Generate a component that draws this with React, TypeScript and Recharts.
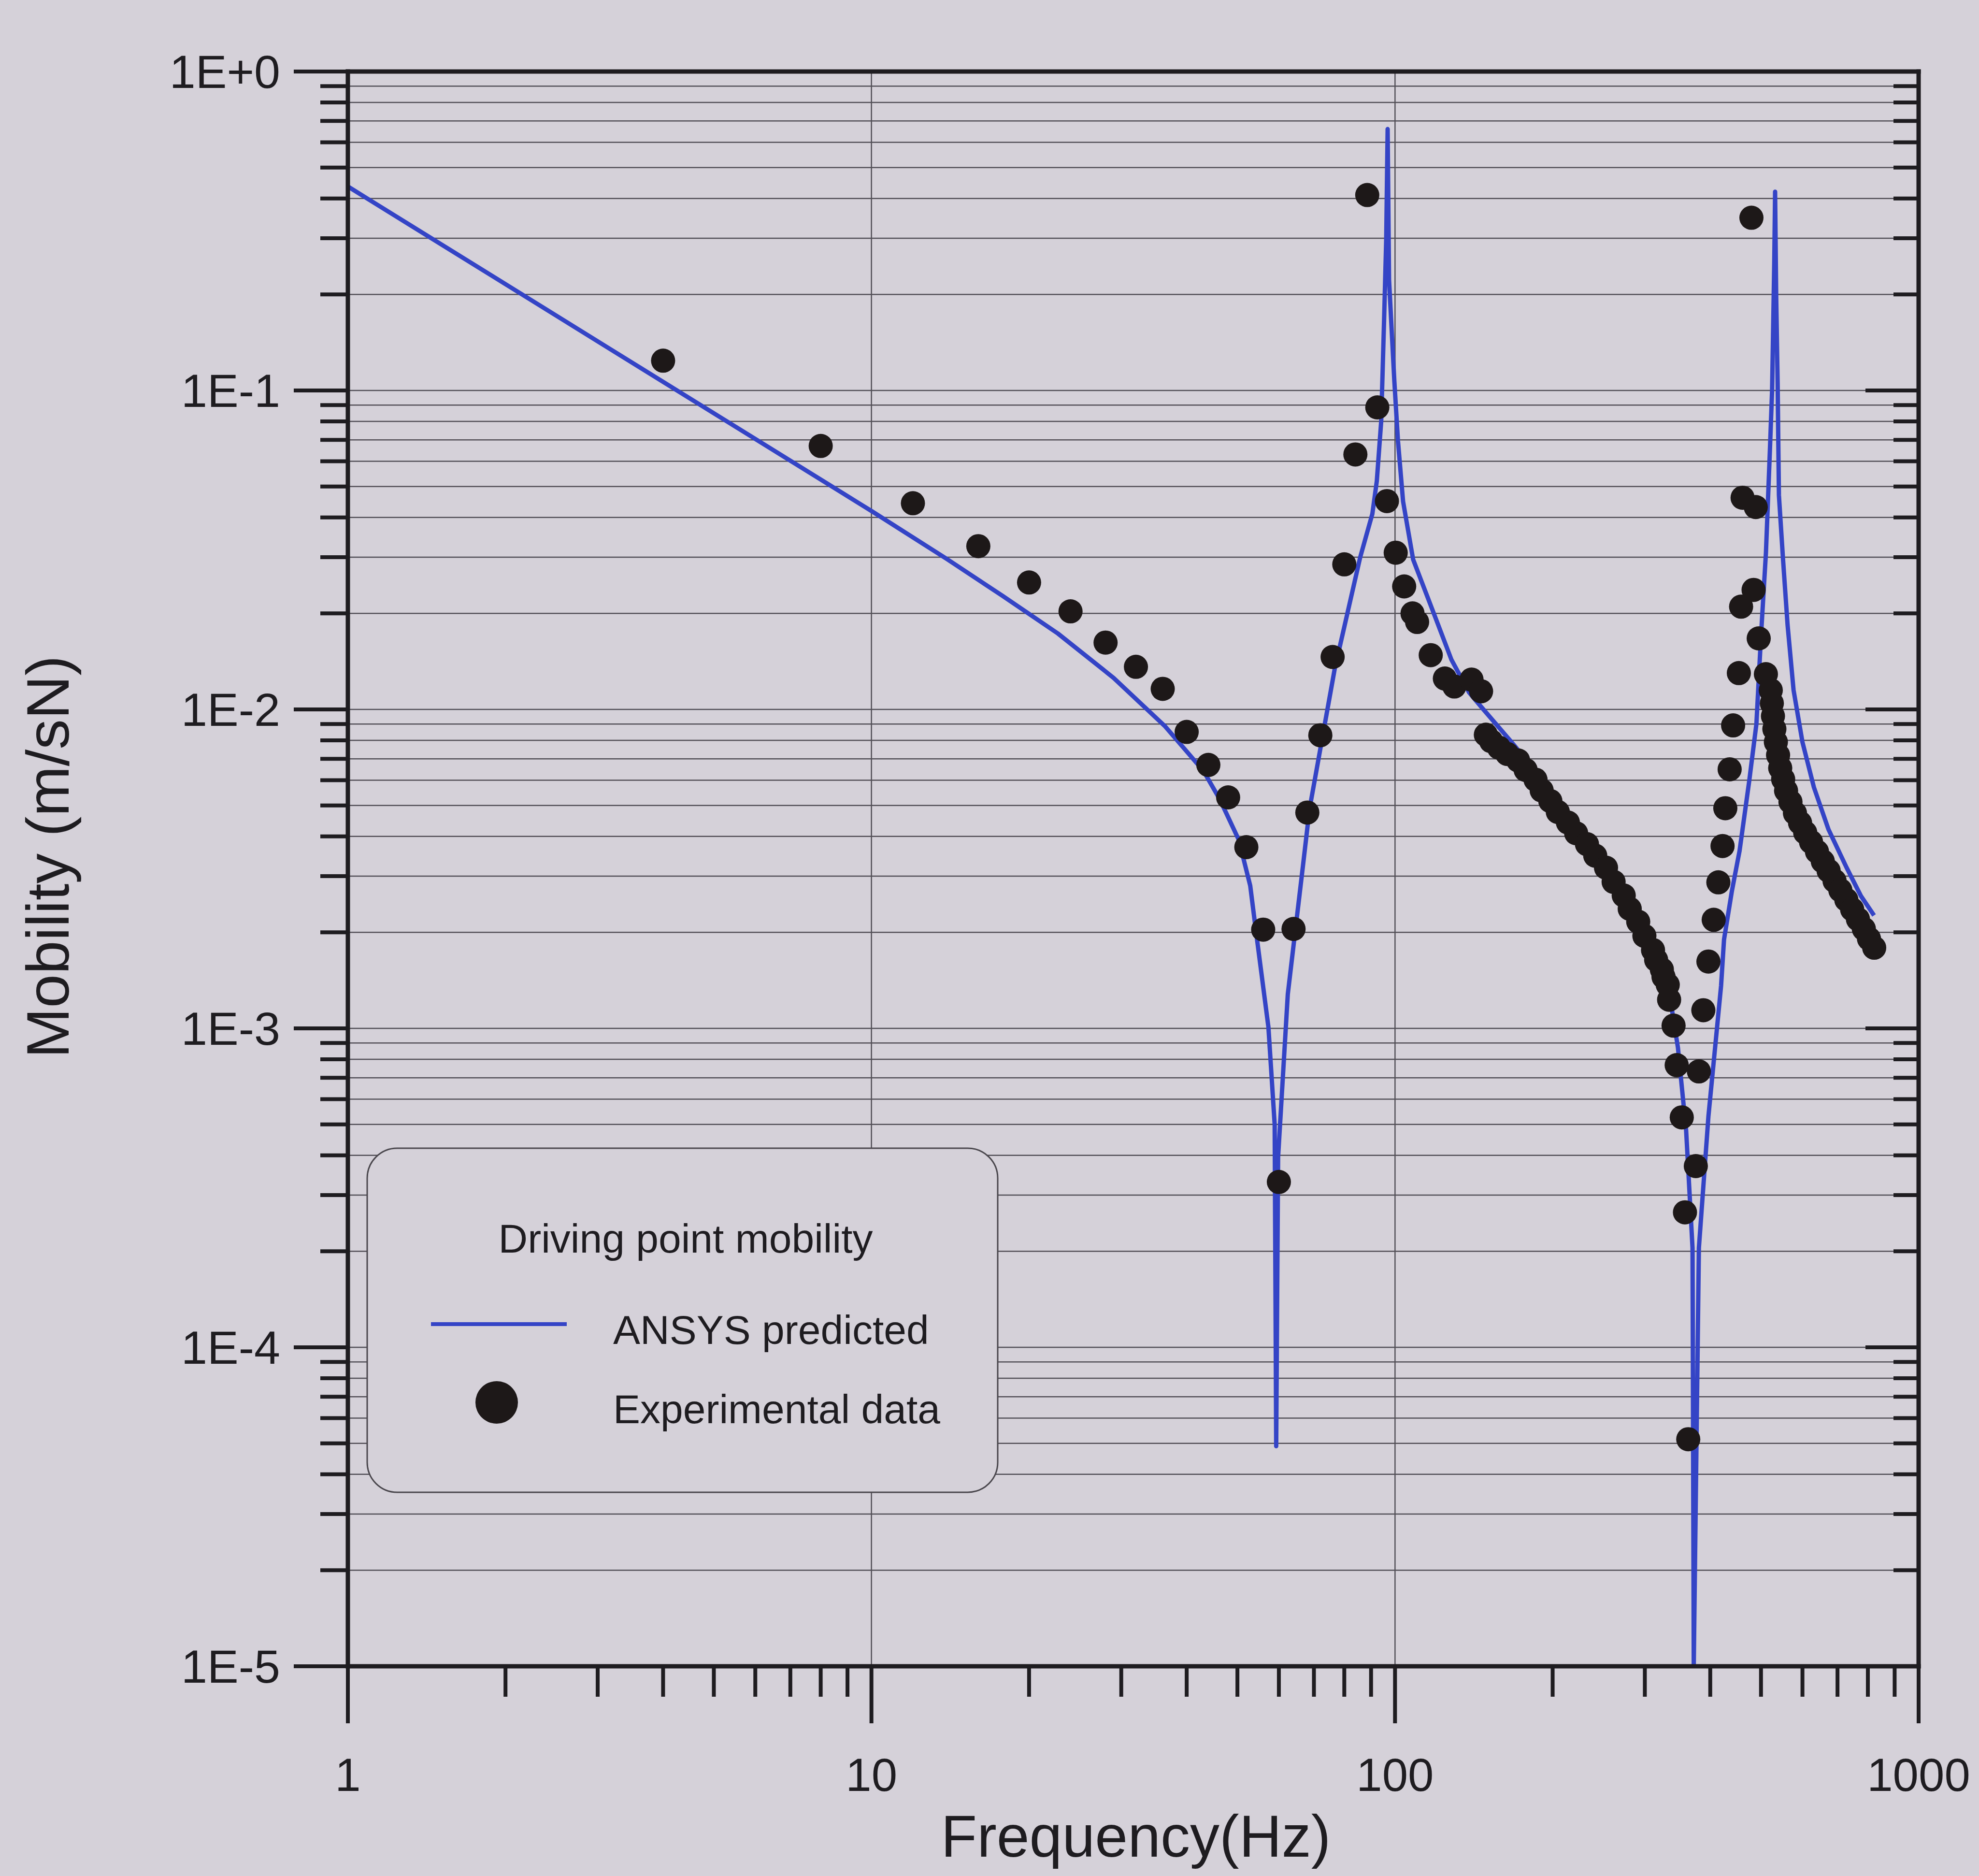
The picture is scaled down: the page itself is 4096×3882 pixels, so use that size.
import {
  CartesianGrid,
  ComposedChart,
  Line,
  ReferenceLine,
  Scatter,
  XAxis,
  YAxis,
} from "recharts";

// frequency (Hz), mobility (m/sN)
const ansysPredicted: [number, number][] = [
  [1, 0.436], [10, 0.0419], [13.9, 0.0297], [17.8, 0.0227], [22.7, 0.0173],
  [29, 0.01256], [36.4, 0.00884], [39.4, 0.0076], [43.1, 0.0064], [46.2, 0.00525],
  [50.3, 0.0039], [52.9, 0.0028], [54.2, 0.00204], [57.3, 0.00101], [58.9, 0.0005],
  [59.3, 0.000049], [59.8, 0.000395], [62.4, 0.00128], [66.8, 0.0033], [68.7, 0.0049],
  [76.7, 0.0134], [85.8, 0.03], [90.5, 0.041], [92.3, 0.052], [94.1, 0.08],
  [95.3, 0.166], [96.2, 0.298], [96.8, 0.66], [97.4, 0.2225], [99.7, 0.107],
  [101.3, 0.0695], [103.6, 0.0449], [108.3, 0.0295], [118.6, 0.02], [128.2, 0.0143],
  [138.5, 0.0113], [147.5, 0.01], [165.8, 0.008], [177.4, 0.007], [185.5, 0.0063],
  [198, 0.0053], [211.2, 0.0047], [225.3, 0.0042], [240.3, 0.0037], [256.2, 0.0032],
  [273.4, 0.0027], [291.4, 0.00226], [311, 0.00181], [327.5, 0.00144], [338.1, 0.00114],
  [347, 0.00087], [359.7, 0.00048], [370, 0.000205], [372, 0.00001], [380.5, 0.000205],
  [396.8, 0.00053], [419.5, 0.00136], [425, 0.0019], [440, 0.0027], [455, 0.0036],
  [475, 0.006], [490, 0.009], [500, 0.017], [511, 0.031], [520, 0.065],
  [525, 0.1], [530, 0.25], [532, 0.42], [534.5, 0.2], [538, 0.105],
  [541, 0.047], [551, 0.0294], [562, 0.0184], [577, 0.0115], [600, 0.0079],
  [631, 0.0057], [673, 0.0042], [728, 0.0032], [776, 0.0026], [822, 0.00226],
];

const experimental: [number, number][] = [
  [4, 0.124], [8, 0.067], [12, 0.0443], [16, 0.0325], [20, 0.025],
  [24, 0.0203], [28, 0.0162], [32, 0.0136], [36, 0.0116], [40, 0.0085],
  [44, 0.0067], [48, 0.0053], [52, 0.0037], [56, 0.00204], [60, 0.00033],
  [64, 0.00205], [68, 0.00475], [72, 0.0083], [76, 0.0146], [80, 0.0285],
  [84, 0.063], [88.5, 0.41], [92.5, 0.0885], [96.5, 0.045], [100.3, 0.031],
  [104.1, 0.0243], [108, 0.02], [110.2, 0.0188], [117, 0.0148], [124.5, 0.0125],
  [129.8, 0.0118], [140, 0.0124], [146, 0.0114], [149.1, 0.00833], [152.6, 0.00795],
  [157.9, 0.00759], [163.8, 0.00725], [171.8, 0.00692], [177.6, 0.00646], [185.5, 0.00602],
  [190.6, 0.00557], [198, 0.00516], [204.6, 0.00477], [213.9, 0.00442], [221.8, 0.00409],
  [232.6, 0.00378], [241.2, 0.00348], [252.9, 0.00319], [261.5, 0.00288], [273.4, 0.00261],
  [280.7, 0.00237], [291.4, 0.00216], [299.4, 0.00195], [311, 0.00176], [315.3, 0.00164],
  [323.3, 0.00153], [325.7, 0.00145], [331.8, 0.00137], [333.8, 0.00123], [340.4, 0.00102],
  [345.1, 0.000767], [352.9, 0.000526], [357.9, 0.000265], [363.1, 0.0000515], [375.4, 0.00037],
  [380.5, 0.000733], [388, 0.00114], [396.8, 0.00162], [406.1, 0.00219], [414.5, 0.00287],
  [422.2, 0.00373], [427.4, 0.0049], [435.6, 0.00649], [442.3, 0.00891], [453.6, 0.013],
  [458.1, 0.021], [461.1, 0.0461], [479.4, 0.348], [484, 0.0237], [488.6, 0.0431],
  [495, 0.0167], [510.9, 0.0129], [522, 0.01148], [524.4, 0.01045], [527, 0.00953],
  [530.3, 0.00868], [533.8, 0.0079], [539, 0.00719], [544.1, 0.00655], [551.2, 0.00604],
  [558.3, 0.00556], [569.2, 0.00513], [580.5, 0.00473], [593.7, 0.00441], [607.3, 0.00411],
  [623.1, 0.00384], [639.6, 0.00358], [656.1, 0.00334], [673.2, 0.00312], [691, 0.0029],
  [708.9, 0.00271], [727.7, 0.00253], [746.6, 0.00236], [765.8, 0.0022], [786, 0.00205],
  [803.9, 0.00191], [822.6, 0.00179],
];

const freqTicks = [
  1, 2, 3, 4, 5, 6, 7, 8, 9,
  10, 20, 30, 40, 50, 60, 70, 80, 90,
  100, 200, 300, 400, 500, 600, 700, 800, 900,
  1000,
];

const mobilityTicks = [
  0.00001, 0.00002, 0.00003, 0.00004, 0.00005, 0.00006, 0.00007, 0.00008, 0.00009,
  0.0001, 0.0002, 0.0003, 0.0004, 0.0005, 0.0006, 0.0007, 0.0008, 0.0009,
  0.001, 0.002, 0.003, 0.004, 0.005, 0.006, 0.007, 0.008, 0.009,
  0.01, 0.02, 0.03, 0.04, 0.05, 0.06, 0.07, 0.08, 0.09,
  0.1, 0.2, 0.3, 0.4, 0.5, 0.6, 0.7, 0.8, 0.9,
  1,
];

const gridFreqs = [10, 100];

const W = 4096;
const H = 3882;
const BG = "#d5d1d9";
const GRID = "#524f57";
const INK = "#1e1c20";
const BLUE = "#3444c6";
const DOT = "#1d1818";
const FONT = "'Liberation Sans', Arial, sans-serif";

const ansysData = ansysPredicted.map(([f, v]) => ({ f, v }));
const expData = experimental.map(([f, v]) => ({ f, v }));

function isMajor(v: number) {
  const e = Math.round(Math.log10(v));
  return Math.abs(v / Math.pow(10, e) - 1) < 1e-6;
}

function expLabel(v: number) {
  const e = Math.round(Math.log10(v));
  return `1E${e >= 0 ? "+" : "-"}${Math.abs(e)}`;
}

function BottomTick(props: any) {
  const { x, y, payload } = props;
  const major = isMajor(payload.value);
  return (
    <g>
      <line x1={x} x2={x} y1={y} y2={y + (major ? 118 : 63)} stroke={INK} strokeWidth={8} />
      {major && (
        <text x={x} y={y + 258} textAnchor="middle" fontSize={96} fontFamily={FONT} fill={INK}>
          {payload.value}
        </text>
      )}
    </g>
  );
}

function TopTick(props: any) {
  const { x, y, payload } = props;
  const major = isMajor(payload.value);
  return <line x1={x} x2={x} y1={y} y2={y + (major ? 110 : 52)} stroke={INK} strokeWidth={8} />;
}

function LeftTick(props: any) {
  const { x, y, payload } = props;
  const major = isMajor(payload.value);
  return (
    <g>
      <line x1={x - (major ? 112 : 57)} x2={x} y1={y} y2={y} stroke={INK} strokeWidth={8} />
      {major && (
        <text
          x={x - 140}
          y={y}
          textAnchor="end"
          dominantBaseline="central"
          fontSize={97}
          fontFamily={FONT}
          fill={INK}
        >
          {expLabel(payload.value)}
        </text>
      )}
    </g>
  );
}

function RightTick(props: any) {
  const { x, y, payload } = props;
  const major = isMajor(payload.value);
  return <line x1={x - (major ? 110 : 52)} x2={x} y1={y} y2={y} stroke={INK} strokeWidth={8} />;
}

const axisLine = { stroke: INK, strokeWidth: 9, strokeLinecap: "square" as const };

export default function App() {
  return (
    <div style={{ position: "absolute", left: 0, top: 0, width: W, height: H, background: BG }}>
      <ComposedChart
        width={W}
        height={H}
        margin={{ top: 147, right: 124, bottom: 433, left: 719 }}
      >
        <CartesianGrid xAxisId="b" yAxisId="l" vertical={false} stroke={GRID} strokeWidth={2.5} />
        <XAxis
          xAxisId="b"
          dataKey="f"
          type="number"
          scale="log"
          domain={[1, 1000]}
          allowDataOverflow
          ticks={freqTicks}
          interval={0}
          height={1}
          tickSize={0}
          tickMargin={0}
          tickLine={false}
          axisLine={axisLine}
          tick={(p: any) => <BottomTick {...p} />}
        />
        <XAxis
          xAxisId="t"
          orientation="top"
          type="number"
          scale="log"
          domain={[1, 1000]}
          allowDataOverflow
          ticks={freqTicks}
          interval={0}
          height={1}
          tickSize={0}
          tickMargin={0}
          tickLine={false}
          axisLine={axisLine}
          tick={(p: any) => <TopTick {...p} />}
        />
        <YAxis
          yAxisId="l"
          dataKey="v"
          type="number"
          scale="log"
          domain={[0.00001, 1]}
          allowDataOverflow
          ticks={mobilityTicks}
          interval={0}
          width={1}
          tickSize={0}
          tickMargin={0}
          tickLine={false}
          axisLine={axisLine}
          tick={(p: any) => <LeftTick {...p} />}
        />
        <YAxis
          yAxisId="r"
          orientation="right"
          type="number"
          scale="log"
          domain={[0.00001, 1]}
          allowDataOverflow
          ticks={mobilityTicks}
          interval={0}
          width={1}
          tickSize={0}
          tickMargin={0}
          tickLine={false}
          axisLine={axisLine}
          tick={(p: any) => <RightTick {...p} />}
        />
        {gridFreqs.map((f) => (
          <ReferenceLine key={f} xAxisId="b" yAxisId="l" x={f} stroke={GRID} strokeWidth={2.5} />
        ))}
        <Scatter
          xAxisId="b"
          yAxisId="l"
          data={expData}
          dataKey="v"
          isAnimationActive={false}
          shape={(p: any) => <circle cx={p.cx} cy={p.cy} r={25} fill={DOT} />}
        />
        <Line
          xAxisId="b"
          yAxisId="l"
          data={ansysData}
          dataKey="v"
          type="linear"
          stroke={BLUE}
          strokeWidth={9}
          strokeLinejoin="round"
          dot={false}
          activeDot={false}
          isAnimationActive={false}
        />
      </ComposedChart>

      <svg
        width={W}
        height={H}
        style={{ position: "absolute", left: 0, top: 0, pointerEvents: "none" }}
        fontFamily={FONT}
        fill={INK}
      >
        <text x={2351} y={3842} textAnchor="middle" fontSize={122}>
          Frequency(Hz)
        </text>
        <text transform="translate(142,1773) rotate(-90)" textAnchor="middle" fontSize={125}>
          Mobility (m/sN)
        </text>

        <rect x={760} y={2376} width={1305} height={712} rx={62} fill={BG} stroke="#4a474d" strokeWidth={3} />
        <text x={1419} y={2592} textAnchor="middle" fontSize={84}>
          Driving point mobility
        </text>
        <line x1={892} x2={1173} y1={2740} y2={2740} stroke={BLUE} strokeWidth={8} />
        <text x={1269} y={2781} fontSize={84}>
          ANSYS predicted
        </text>
        <circle cx={1028} cy={2902} r={44} fill={DOT} />
        <text x={1269} y={2945} fontSize={84}>
          Experimental data
        </text>
      </svg>
    </div>
  );
}
